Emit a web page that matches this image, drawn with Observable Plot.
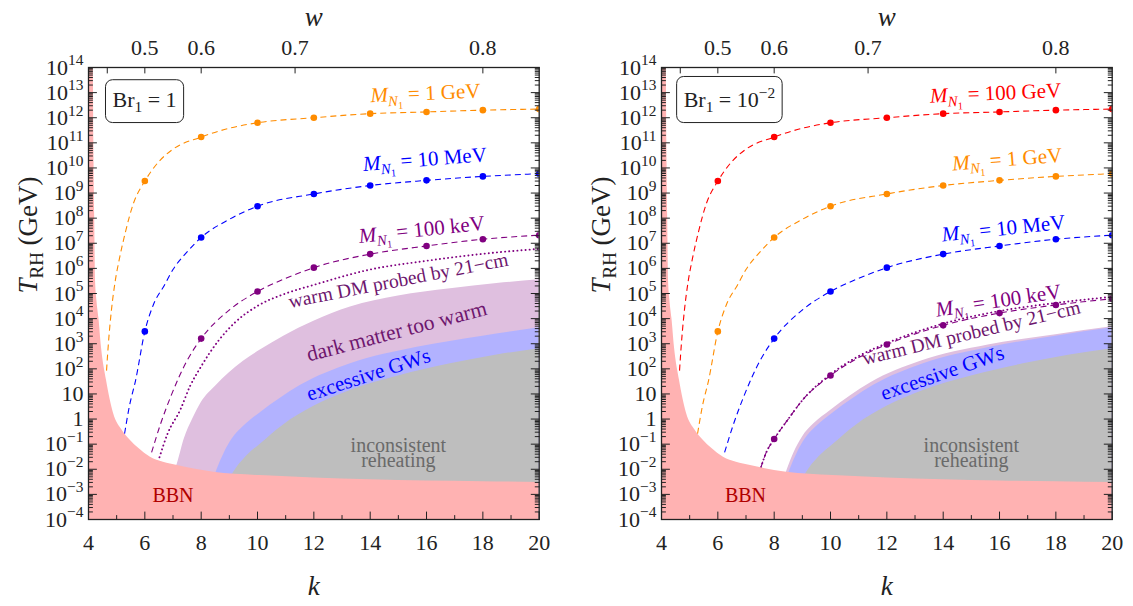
<!DOCTYPE html>
<html><head><meta charset="utf-8">
<script src="https://cdn.jsdelivr.net/npm/d3@7"></script>
<script src="https://cdn.jsdelivr.net/npm/@observablehq/plot@0.6"></script>
</head><body style="margin:0;background:#fff"><div id="root" style="position:relative;width:1133px;height:606px;overflow:hidden;background:#fff;font-family:'Liberation Serif',serif"></div>
<script>
// ---------------- data ----------------
const kTicks = [4, 6, 8, 10, 12, 14, 16, 18, 20];
const kMinorTicks = [5, 7, 9, 11, 13, 15, 17, 19];
const wTickLabels = [0.5, 0.6, 0.7, 0.8];
const wAllTicks = [0.4, 0.5, 0.6, 0.7, 0.8];
const yExponents = [-4, -3, -2, -1, 0, 1, 2, 3, 4, 5, 6, 7, 8, 9, 10, 11, 12, 13, 14];

// BBN excluded region (upper boundary), shared by both panels
const bbnK = [4.0, 4.17, 4.19, 4.22, 4.25, 4.3, 4.37, 4.46, 4.64, 4.89, 5.2, 5.49, 5.78, 6.2, 6.66, 7.16, 8.44, 10.1, 12, 14, 16, 18, 20];
const bbnT = [1e14, 1e14, 1e11, 1e8, 3.2e5, 5e4, 1e4, 720, 34, 1.66, 0.35, 0.14, 0.068, 0.03, 0.019, 0.014, 7.6e-3, 5.6e-3, 4.5e-3, 3.8e-3, 3.4e-3, 3.2e-3, 2.95e-3];

// inconsistent reheating (grey)
const greyK = [9.0, 9.25, 9.6, 10.1, 10.9, 12, 13.3, 15, 16.85, 18.5, 20];
const greyT = [4e-3, 0.011, 0.032, 0.1, 0.56, 3.2, 13.8, 52, 158, 355, 630];

// excessive GWs (blue band upper boundary)
const gwK = [8.45, 8.57, 8.8, 9.1, 9.5, 10.1, 10.8, 11.53, 13.3, 15.67, 18, 20];
const gwT = [4e-3, 0.01, 0.04, 0.16, 0.5, 1.8, 6.6, 22, 160, 720, 2e3, 4.3e3];

// dark matter too warm (purple band upper boundary)
const warmK_Br1 = [6.9, 7.15, 7.4, 7.7, 8.0, 8.5, 9.0, 9.5, 10.1, 10.93, 12, 13.3, 15, 16.85, 18.5, 20];
const warmT_Br1 = [4e-3, 0.016, 0.16, 1.0, 4.5, 20, 70, 200, 560, 2e3, 7.9e3, 2.9e4, 8e4, 1.55e5, 2.5e5, 3.5e5];
const warmK_Br2 = [8.35, 8.47, 8.7, 9.0, 9.4, 10.0, 10.7, 11.43, 13.2, 15.6, 18, 20];
const warmT_Br2 = [4e-3, 0.01, 0.045, 0.19, 0.63, 2.2, 8.3, 28, 200, 890, 2.3e3, 4.7e3];

// T_RH curves
const curveK_1GeV_Br1 = [4.64, 4.72, 4.82, 4.95, 5.1, 5.3, 5.6, 6, 6.5, 7, 8, 9, 10, 12, 14, 16, 18, 20];
const curveT_1GeV_Br1 = [85, 1.6e3, 2.5e4, 3.2e5, 2.5e6, 2.5e7, 4e8, 3e9, 1.8e10, 5.6e10, 1.7e11, 3.8e11, 6.3e11, 1.0e12, 1.45e12, 1.7e12, 2.0e12, 2.2e12];
const curveK_10MeV_Br1 = [5.28, 5.45, 5.67, 6, 6.3, 6.7, 7, 7.5, 8, 9, 10, 12, 14, 16, 18, 20];
const curveT_10MeV_Br1 = [0.26, 3.2, 34, 3.1e3, 3.5e4, 2.2e5, 9e5, 4.5e6, 1.7e7, 9e7, 3e8, 9.2e8, 2e9, 3.2e9, 4.6e9, 5.9e9];
const curveK_100keV_Br1 = [6.24, 6.56, 6.91, 7.5, 8, 9, 10, 11, 12, 14, 16, 18, 20];
const curveT_100keV_Br1 = [0.047, 0.65, 7.4, 214, 1.6e3, 2.2e4, 1.2e5, 4e5, 1.07e6, 3.7e6, 7.8e6, 1.45e7, 2.1e7];
const cmK_Br1 = [6.52, 6.8, 7.27, 7.6, 8.0, 8.6, 9.2, 10, 11, 12, 14, 16, 18, 20];
const cmT_Br1 = [0.03, 0.25, 2.5, 20, 126, 1.26e3, 7e3, 3.2e4, 1e5, 2.2e5, 9e5, 2e6, 3.8e6, 6e6];

const curveK_100GeV_Br2 = [4.64, 4.72, 4.82, 4.95, 5.1, 5.3, 5.6, 6, 6.5, 7, 8, 9, 10, 12, 14, 16, 18, 20];
const curveT_100GeV_Br2 = [85, 1.6e3, 2.5e4, 3.2e5, 2.5e6, 2.5e7, 4e8, 3e9, 1.8e10, 5.6e10, 1.7e11, 3.8e11, 6.3e11, 1.0e12, 1.45e12, 1.7e12, 2.0e12, 2.2e12];
const curveK_1GeV_Br2 = [5.28, 5.45, 5.67, 6, 6.3, 6.7, 7, 7.5, 8, 9, 10, 12, 14, 16, 18, 20];
const curveT_1GeV_Br2 = [0.26, 3.2, 34, 3.1e3, 3.5e4, 2.2e5, 9e5, 4.5e6, 1.7e7, 9e7, 3e8, 9.2e8, 2e9, 3.2e9, 4.6e9, 5.9e9];
const curveK_10MeV_Br2 = [6.24, 6.56, 6.91, 7.5, 8, 9, 10, 11, 12, 14, 16, 18, 20];
const curveT_10MeV_Br2 = [0.047, 0.65, 7.4, 214, 1.6e3, 2.2e4, 1.2e5, 4e5, 1.07e6, 3.7e6, 7.8e6, 1.45e7, 2.1e7];
const curveK_100keV_Br2 = [7.53, 7.7, 8, 8.5, 9, 10, 11, 12, 14, 16, 18, 20];
const curveT_100keV_Br2 = [0.012, 0.042, 0.16, 1.0, 5.6, 54, 280, 930, 5.4e3, 1.66e4, 3.5e4, 6.2e4];
const cmK_Br2 = [7.53, 7.7, 8, 8.5, 9, 10, 11, 12, 14, 16, 18, 20];
const cmT_Br2 = [0.012, 0.042, 0.16, 1.0, 5.6, 60, 320, 1.05e3, 6.3e3, 2.0e4, 4.2e4, 7.4e4];

// ---------------- styling ----------------
const FONT = "'Liberation Serif', 'Times New Roman', serif";
const AX = "#222";
const C = {orange: "#ff8c00", blue: "#0000ff", purple: "#800080", red: "#ff0000",
  bbn: "#ffb2b2", grey: "#bebebe", gw: "#b2b2ff", warm: "#dfbfdf"};
const DASH = "6,4", DOT = "0.1,4";

const kFromW = w => 2 * (1 + w) / (1 - w);
const table = (ks, Ts) => ks.map((k, i) => ({k, T: Ts[i]}));
const powFmt = d => {
  const e = Math.round(Math.log10(d));
  if (e === 0) return "1";
  if (e === 1) return "10";
  return "10^{" + (e < 0 ? "\u2212" + (-e) : e) + "}";
};

function panel(cfg) {
  const yMin = 1e-4, yMax = 1e14;
  const tick = {draw(ctx, l) { ctx.moveTo(0, 0); ctx.lineTo(0, -l); }};
  const decades = yExponents.map(e => Math.pow(10, e));
  const minorY = [];
  for (const e of yExponents.slice(0, -1)) for (let m = 2; m <= 9; m++) minorY.push(m * Math.pow(10, e));
  const marks = [];
  for (const b of cfg.bands)
    marks.push(Plot.areaY(table(b.k, b.T), {x: "k", y1: yMin, y2: "T", fill: b.fill, curve: "monotone-x", clip: true}));
  for (const c of cfg.curves) {
    marks.push(Plot.line(table(c.k, c.T), {x: "k", y: "T", stroke: c.color, strokeWidth: c.dots ? 1.1 : 1.9,
      strokeDasharray: c.dash, strokeLinecap: c.dots ? "butt" : "round", curve: "monotone-x", clip: true}));
    if (c.dots)
      marks.push(Plot.dot(table(c.k, c.T).filter(d => d.k >= 6 && d.k % 2 === 0), {x: "k", y: "T", r: 3.3, fill: c.color, stroke: "none", clip: true}));
  }
  marks.push(Plot.areaY(table(bbnK, bbnT), {x: "k", y1: yMin, y2: "T", fill: C.bbn, curve: "monotone-x", clip: true}));
  for (const L of cfg.labels)
    marks.push(Plot.text([L], {x: "k", y: "T", text: "text", rotate: L.rot || 0, fill: L.color,
      fontSize: L.size || 21, lineHeight: L.lh || 1, textAnchor: "middle"}));
  marks.push(Plot.text([cfg.box], {x: "k", y: "T", text: "text", fontSize: 22, fill: AX}));
  const v = (data, o) => Plot.vector(data, {anchor: "start", shape: tick, stroke: AX, strokeWidth: 1, ...o});
  marks.push(
    v(kTicks, {x: d => d, y: () => yMin, length: 7.5, rotate: 0}),
    v(kMinorTicks, {x: d => d, y: () => yMin, length: 4, rotate: 0}),
    v(wAllTicks.map(kFromW), {x: d => d, y: () => yMax, length: 5.5, rotate: 180}),
    v(decades, {x: () => 4, y: d => d, length: 8, rotate: 90}),
    v(minorY, {x: () => 4, y: d => d, length: 4, rotate: 90}),
    v(decades, {x: () => 20, y: d => d, length: 8, rotate: -90}),
    v(minorY, {x: () => 20, y: d => d, length: 4, rotate: -90}),
    Plot.frame({stroke: AX, strokeWidth: 1.3}),
    Plot.axisX({anchor: "bottom", ticks: kTicks, tickSize: 0, tickPadding: 15, label: null, fontSize: 22, tickFormat: d => String(d)}),
    Plot.axisX({anchor: "top", ticks: wTickLabels.map(kFromW), tickSize: 0, tickPadding: 13, label: null, fontSize: 22,
      tickFormat: d => ((d - 2) / (d + 2)).toFixed(1)}),
    Plot.axisY({anchor: "left", ticks: decades, tickSize: 0, tickPadding: 5, label: null, fontSize: 22, tickFormat: powFmt}),
    Plot.text(["$w$"], {frameAnchor: "top", dy: -61, fontSize: 27, text: d => d}),
    Plot.text(["$k$"], {frameAnchor: "bottom", dy: 75, fontSize: 27, text: d => d}),
    Plot.text(["$T$_{RH} (GeV)"], {frameAnchor: "left", dx: -60, rotate: -90, fontSize: 27, text: d => d})
  );
  return Plot.plot({
    width: cfg.width, height: 606, marginLeft: 88, marginRight: cfg.marginRight, marginTop: 67, marginBottom: 87,
    x: {domain: [4, 20]}, y: {type: "log", domain: [yMin, yMax]},
    style: {fontSize: "22px", color: AX, background: "transparent", overflow: "visible"},
    marks
  });
}

// ---- force fonts inline ----
function fontify(svg) {
  svg.setAttribute("font-family", FONT);
  svg.style.fontFamily = FONT;
  svg.querySelectorAll("g, text").forEach(el => {
    if (el.hasAttribute("font-family")) el.setAttribute("font-family", FONT);
  });
  svg.querySelectorAll("text").forEach(t => { t.style.fontFamily = FONT; });
  svg.querySelectorAll("g[aria-label$='tick label']").forEach(g => {
    g.setAttribute("font-size", "22");
    g.querySelectorAll("text").forEach(t => { t.style.fontSize = "22px"; });
  });
}

// ---- rich text (sub/superscripts, italics) ----
function parseRich(s) {
  const runs = [], stack = [{size: 1, off: 0}];
  let italic = false, buf = "";
  const flush = () => { if (buf) { const t = stack[stack.length - 1]; runs.push({text: buf, size: t.size, off: t.off, italic}); buf = ""; } };
  for (let i = 0; i < s.length; i++) {
    const ch = s[i];
    if ((ch === "_" || ch === "^") && s[i + 1] === "{") {
      flush(); const t = stack[stack.length - 1];
      stack.push(ch === "_" ? {size: t.size * 0.7, off: t.off + 0.22 * t.size} : {size: t.size * 0.7, off: t.off - 0.42 * t.size});
      i++;
    } else if (ch === "}" && stack.length > 1) { flush(); stack.pop(); }
    else if (ch === "$") { flush(); italic = !italic; }
    else buf += ch;
  }
  flush();
  return runs;
}
function richify(svg) {
  const ns = "http://www.w3.org/2000/svg";
  svg.querySelectorAll("text").forEach(t => {
    if (t.querySelector("tspan")) return;
    const s = t.textContent;
    if (!/[_^$]/.test(s)) return;
    const fs = parseFloat(getComputedStyle(t).fontSize);
    t.textContent = "";
    let prev = 0;
    for (const r of parseRich(s)) {
      const ts = document.createElementNS(ns, "tspan");
      ts.textContent = r.text;
      ts.setAttribute("font-size", (r.size * fs).toFixed(2));
      ts.style.fontSize = (r.size * fs).toFixed(2) + "px";
      const off = r.off * fs;
      if (off !== prev) ts.setAttribute("dy", (off - prev).toFixed(2));
      prev = off;
      if (r.italic) ts.setAttribute("font-style", "italic");
      t.appendChild(ts);
    }
  });
}
function boxify(svg) {
  const ns = "http://www.w3.org/2000/svg";
  svg.querySelectorAll("text").forEach(t => {
    if (!t.textContent.startsWith("Br")) return;
    const bb = t.getBBox();
    const r = document.createElementNS(ns, "rect");
    r.setAttribute("x", bb.x - 7); r.setAttribute("y", bb.y - 7.5);
    r.setAttribute("width", bb.width + 14); r.setAttribute("height", bb.height + 15);
    r.setAttribute("rx", 7); r.setAttribute("fill", "#fff"); r.setAttribute("stroke", AX); r.setAttribute("stroke-width", 1);
    if (t.getAttribute("transform")) r.setAttribute("transform", t.getAttribute("transform"));
    t.parentNode.insertBefore(r, t);
  });
}

const MN = "$M$_{$N$_{1}} = ";
const DMC = "#6e166e";
const left = {
  left: 0, width: 566, marginRight: 27.3,
  bands: [
    {k: warmK_Br1, T: warmT_Br1, fill: C.warm},
    {k: gwK, T: gwT, fill: C.gw},
    {k: greyK, T: greyT, fill: C.grey}
  ],
  curves: [
    {k: cmK_Br1, T: cmT_Br1, color: C.purple, dash: DOT, dots: false},
    {k: curveK_1GeV_Br1, T: curveT_1GeV_Br1, color: C.orange, dash: DASH, dots: true},
    {k: curveK_10MeV_Br1, T: curveT_10MeV_Br1, color: C.blue, dash: DASH, dots: true},
    {k: curveK_100keV_Br1, T: curveT_100keV_Br1, color: C.purple, dash: DASH, dots: true}
  ],
  box: {k: 5.99, T: 5e12, text: "Br_{1} = 1"},
  labels: [
    {k: 15.96, T: 9.5e12, text: MN + "1 GeV", rot: -2.5, color: C.orange},
    {k: 15.94, T: 2.2e10, text: MN + "10 MeV", rot: -4.5, color: C.blue},
    {k: 15.83, T: 3.5e7, text: MN + "100 keV", rot: -6, color: C.purple},
    {k: 15.0, T: 3.3e5, text: "warm DM probed by 21\u2212cm", rot: -11, color: DMC, size: 19.5},
    {k: 14.94, T: 3.1e3, text: "dark matter too warm", rot: -14.7, color: DMC, size: 21.5},
    {k: 13.94, T: 58, text: "excessive GWs", rot: -18, color: C.blue, size: 21},
    {k: 15.0, T: 0.039, text: "inconsistent\nreheating", color: "#6a6a6a", size: 20, lh: 0.78},
    {k: 7.0, T: 8.9e-4, text: "BBN", color: "#b00000", size: 20}
  ]
};
const right = {
  left: 573, width: 560, marginRight: 21.3,
  bands: [
    {k: warmK_Br2, T: warmT_Br2, fill: C.warm},
    {k: gwK, T: gwT, fill: C.gw},
    {k: greyK, T: greyT, fill: C.grey}
  ],
  curves: [
    {k: cmK_Br2, T: cmT_Br2, color: C.purple, dash: DOT, dots: false},
    {k: curveK_100GeV_Br2, T: curveT_100GeV_Br2, color: C.red, dash: DASH, dots: true},
    {k: curveK_1GeV_Br2, T: curveT_1GeV_Br2, color: C.orange, dash: DASH, dots: true},
    {k: curveK_10MeV_Br2, T: curveT_10MeV_Br2, color: C.blue, dash: DASH, dots: true},
    {k: curveK_100keV_Br2, T: curveT_100keV_Br2, color: C.purple, dash: DASH, dots: true}
  ],
  box: {k: 6.41, T: 5e12, text: "Br_{1} = 10^{\u22122}"},
  labels: [
    {k: 15.86, T: 9.5e12, text: MN + "100 GeV", rot: -2.5, color: C.red},
    {k: 16.27, T: 2.2e10, text: MN + "1 GeV", rot: -4.5, color: C.orange},
    {k: 16.14, T: 3.9e7, text: MN + "10 MeV", rot: -6, color: C.blue},
    {k: 15.96, T: 5.2e4, text: MN + "100 keV", rot: -8.5, color: C.purple},
    {k: 15.0, T: 2.7e3, text: "warm DM probed by 21\u2212cm", rot: -13.5, color: DMC, size: 19.5},
    {k: 13.97, T: 68, text: "excessive GWs", rot: -19, color: C.blue, size: 21},
    {k: 15.0, T: 0.039, text: "inconsistent\nreheating", color: "#6a6a6a", size: 20, lh: 0.78},
    {k: 6.98, T: 8.9e-4, text: "BBN", color: "#b00000", size: 20}
  ]
};

const root = document.getElementById("root");
for (const cfg of [left, right]) {
  const svg = panel(cfg);
  svg.style.position = "absolute";
  svg.style.left = cfg.left + "px";
  svg.style.top = "0px";
  root.appendChild(svg);
  fontify(svg);
  richify(svg);
  boxify(svg);
}
</script>
</body></html>
